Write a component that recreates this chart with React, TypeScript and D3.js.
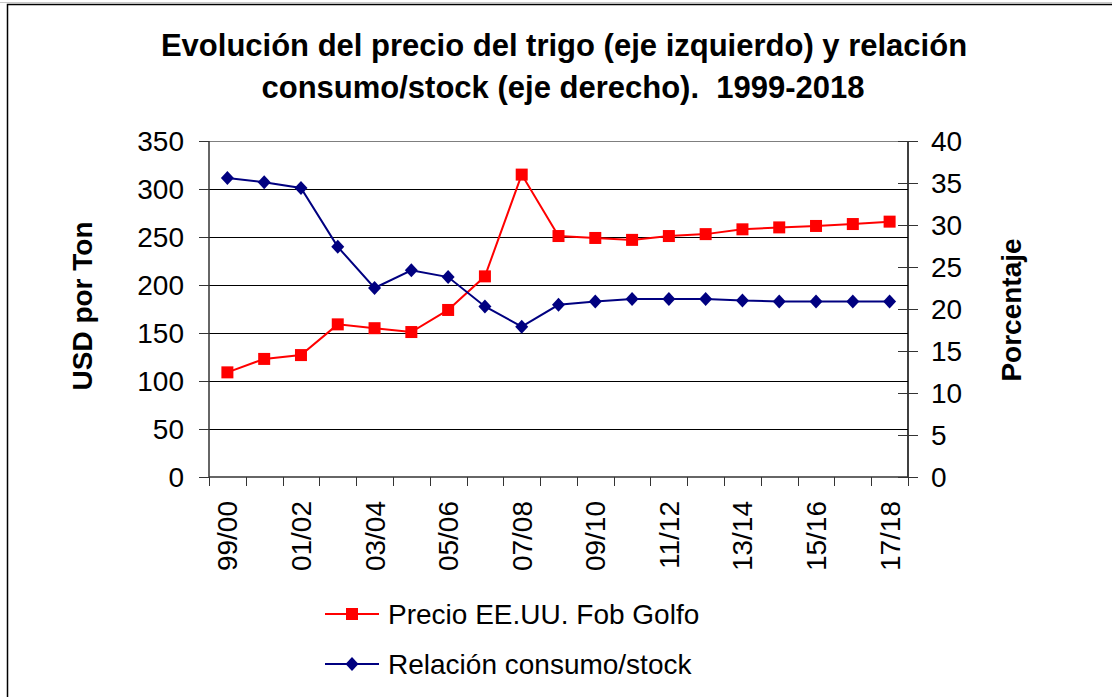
import React from "react";
import * as d3 from "d3";

const categories = ["99/00","00/01","01/02","02/03","03/04","04/05","05/06","06/07","07/08","08/09","09/10","10/11","11/12","12/13","13/14","14/15","15/16","16/17","17/18"];
const precio = [109, 123, 127, 159, 155, 151, 174, 209, 315, 251, 249, 247, 251, 253, 258, 260, 261.5, 263.5, 266];
const relacion = [35.6, 35.1, 34.4, 27.4, 22.5, 24.6, 23.8, 20.3, 17.9, 20.5, 20.9, 21.2, 21.2, 21.2, 21.0, 20.9, 20.9, 20.9, 20.9];
const leftTicks = [0, 50, 100, 150, 200, 250, 300, 350];
const rightTicks = [0, 5, 10, 15, 20, 25, 30, 35, 40];
const xLabels = ["99/00","01/02","03/04","05/06","07/08","09/10","11/12","13/14","15/16","17/18"];
const titleLines = ["Evolución del precio del trigo (eje izquierdo) y relación", "consumo/stock (eje derecho).  1999-2018"];
const seriesNames = ["Precio EE.UU. Fob Golfo", "Relación consumo/stock"];

const FONT = "'Liberation Sans', Arial, Helvetica, sans-serif";
const RED = "#FF0000";
const BLUE = "#000080";

export default function App() {
  const L = 209, R = 908, T = 141, B = 477;
  const xBand = d3.scaleBand<string>().domain(categories).range([L, R]).paddingInner(0).paddingOuter(0);
  const cx = (c: string) => (xBand(c) as number) + xBand.bandwidth() / 2;
  const yL = d3.scaleLinear().domain([0, 350]).range([B, T]);
  const yR = d3.scaleLinear().domain([0, 40]).range([B, T]);

  const redLine = d3.line<number>().x((_, i) => cx(categories[i])).y((d) => yL(d));
  const blueLine = d3.line<number>().x((_, i) => cx(categories[i])).y((d) => yR(d));

  const boundaries = d3.range(categories.length + 1).map((i) => L + i * xBand.bandwidth());

  const square = (x: number, y: number, key: string | number) => (
    <rect key={key} x={x - 6} y={y - 6} width={12} height={12} fill={RED} />
  );
  const diamond = (x: number, y: number, key: string | number) => (
    <path key={key} d={`M${x},${y - 7}L${x + 6.5},${y}L${x},${y + 7}L${x - 6.5},${y}Z`} fill={BLUE} />
  );

  return (
    <svg width={1112} height={697} style={{ position: "absolute", left: 0, top: 0, background: "#fff" }} fontFamily={FONT}>
      <rect x={0} y={0} width={1112} height={697} fill="#fff" />
      <line x1={0} x2={1112} y1={2.5} y2={2.5} stroke="#c8c8c8" strokeWidth={1} />
      <rect x={7.5} y={4.5} width={1120} height={720} fill="none" stroke="#000" strokeWidth={1.5} />

      {/* Title */}
      <g fontWeight="bold" fontSize={31} textAnchor="middle" fill="#000">
        <text x={564} y={56} xmlSpace="preserve" style={{ whiteSpace: "pre" }}>{titleLines[0]}</text>
        <text x={563} y={98} xmlSpace="preserve" style={{ whiteSpace: "pre" }}>{titleLines[1]}</text>
      </g>

      {/* Grid lines */}
      {leftTicks.filter((t) => t > 0).map((t) => (
        <line key={"g" + t} x1={L} x2={R} y1={Math.round(yL(t)) + 0.5} y2={Math.round(yL(t)) + 0.5}
          stroke={t === 350 ? "#7f7f7f" : "#000"} strokeWidth={1} />
      ))}

      {/* Left axis */}
      <line x1={L} x2={L} y1={T} y2={B} stroke="#333" strokeWidth={1.5} />
      {leftTicks.map((t) => (
        <g key={"lt" + t}>
          <line x1={199} x2={L} y1={Math.round(yL(t)) + 0.5} y2={Math.round(yL(t)) + 0.5} stroke="#333" strokeWidth={1} />
          <text x={184} y={yL(t)} dy="0.36em" textAnchor="end" fontSize={28} fill="#000">{t}</text>
        </g>
      ))}

      {/* Right axis */}
      <line x1={R} x2={R} y1={T} y2={B} stroke="#000" strokeWidth={1.5} />
      {rightTicks.map((t) => (
        <g key={"rt" + t}>
          <line x1={898} x2={918} y1={Math.round(yR(t)) + 0.5} y2={Math.round(yR(t)) + 0.5} stroke="#333" strokeWidth={1} />
          <text x={931} y={yR(t)} dy="0.36em" textAnchor="start" fontSize={28} fill="#000">{t}</text>
        </g>
      ))}

      {/* X axis */}
      <line x1={L} x2={R} y1={B} y2={B} stroke="#333" strokeWidth={1.5} />
      {boundaries.map((bx, i) => (
        <line key={"xt" + i} x1={Math.round(bx) + 0.5} x2={Math.round(bx) + 0.5} y1={B} y2={486} stroke="#333" strokeWidth={1} />
      ))}
      {xLabels.map((lab) => (
        <text key={"xl" + lab} transform={`translate(${cx(lab) + 10},${501}) rotate(-90)`} textAnchor="end" fontSize={28} fill="#000">{lab}</text>
      ))}

      {/* Axis titles */}
      <text transform={`translate(92,306) rotate(-90)`} textAnchor="middle" fontWeight="bold" fontSize={28} fill="#000">USD por Ton</text>
      <text transform={`translate(1021,310) rotate(-90)`} textAnchor="middle" fontWeight="bold" fontSize={28} fill="#000">Porcentaje</text>

      {/* Series */}
      <path d={redLine(precio) || ""} fill="none" stroke={RED} strokeWidth={2} />
      {precio.map((v, i) => square(cx(categories[i]), yL(v), "p" + i))}
      <path d={blueLine(relacion) || ""} fill="none" stroke={BLUE} strokeWidth={2} />
      {relacion.map((v, i) => diamond(cx(categories[i]), yR(v), "r" + i))}

      {/* Legend */}
      <line x1={325} x2={379} y1={614} y2={614} stroke={RED} strokeWidth={2} />
      {square(352, 614, "lg1")}
      <text x={388} y={614} dy="0.36em" fontSize={28} fill="#000">{seriesNames[0]}</text>
      <line x1={325} x2={379} y1={664} y2={664} stroke={BLUE} strokeWidth={2} />
      {diamond(352, 664, "lg2")}
      <text x={388} y={664} dy="0.36em" fontSize={28} fill="#000">{seriesNames[1]}</text>
    </svg>
  );
}
